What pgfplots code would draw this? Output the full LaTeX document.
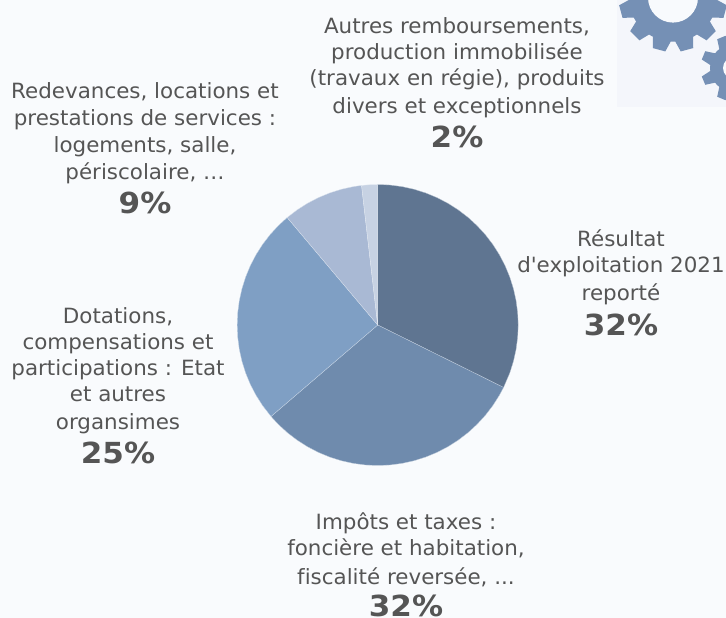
\documentclass[border=0pt]{standalone}
\usepackage{fontspec}
\setmainfont[FakeStretch=1.02,Ligatures=NoCommon]{DejaVu Sans}
\newfontfamily\pctfont[FakeStretch=1.07]{DejaVu Sans Bold}
\usepackage{pgfplots}
\pgfplotsset{compat=1.18}
\usepgfplotslibrary{polar}
\definecolor{pagebg}{HTML}{F9FBFD}
\definecolor{imgbg}{HTML}{F4F6FB}
\definecolor{gearc}{HTML}{7590B5}
\definecolor{txt}{HTML}{555555}
\definecolor{sa}{HTML}{5F7591}
\definecolor{sb}{HTML}{6F8BAD}
\definecolor{sc}{HTML}{7F9FC4}
\definecolor{sd}{HTML}{A9B9D4}
\definecolor{se}{HTML}{C7D2E3}
\newcommand{\lbl}[3]{\node[anchor=base,inner sep=0pt,text=txt,font=\fontsize{21}{23}\selectfont] at (#1,617-#2) {#3};}
\newcommand{\pct}[3]{\node[anchor=base,inner sep=0pt,text=txt,font=\fontsize{29}{32}\pctfont] at (#1,617-#2) {#3};}
% gear: centre x, y (from top), body radius, tooth radius, hole radius, number of teeth, half tooth width
\newcommand{\gear}[7]{%
  \begin{scope}[shift={(#1,618-(#2))}]
    \fill[gearc] (0,0) circle (#3pt);
    \pgfmathsetmacro{\stepa}{360/#6}
    \foreach \i in {1,...,#6}{
      \pgfmathsetmacro{\ang}{\i*\stepa+\stepa/2}
      \fill[gearc,rotate=\ang] ({#3-2},{-#7*1.45}) -- (#4,{-#7}) -- (#4,#7) -- ({#3-2},{#7*1.45}) -- cycle;
    }
    \fill[imgbg!60!white] (0,0) circle (#5pt);
  \end{scope}}
\begin{document}
\begin{tikzpicture}[x=1pt,y=1pt]
\path[use as bounding box] (0,0) rectangle (726,618);
\fill[pagebg] (0,0) rectangle (726,618);
\begin{scope}
\clip (0,0) rectangle (726,618);
\fill[imgbg] (617,511) rectangle (726,618);
\gear{673}{-2.4}{44}{54}{25}{12}{6.5}
\gear{734}{68}{24}{33}{11}{8}{4.5}
\end{scope}

\begin{polaraxis}[
  hide axis, scale only axis, width=281pt, height=281pt,
  at={(377.7pt,293pt)}, anchor=center,
  ymin=0, ymax=1, clip=false
]
\addplot[fill=sa,draw=pagebg!60!sa,line width=0.3pt] coordinates {(0,0) (90,1) (85,1) (80,1) (75,1) (70,1) (65,1) (60,1) (55,1) (50,1) (45,1) (40,1) (35,1) (30,1) (25,1) (20,1) (15,1) (10,1) (5,1) (0,1) (-5,1) (-10,1) (-15,1) (-20,1) (-26.4,1)} -- cycle;
\addplot[fill=sb,draw=pagebg!60!sb,line width=0.3pt] coordinates {(0,0) (-26.4,1) (-30,1) (-35,1) (-40,1) (-45,1) (-50,1) (-55,1) (-60,1) (-65,1) (-70,1) (-75,1) (-80,1) (-85,1) (-90,1) (-95,1) (-100,1) (-105,1) (-110,1) (-115,1) (-120,1) (-125,1) (-130,1) (-135,1) (-139.4,1)} -- cycle;
\addplot[fill=sc,draw=pagebg!60!sc,line width=0.3pt] coordinates {(0,0) (-139.4,1) (-145,1) (-150,1) (-155,1) (-160,1) (-165,1) (-170,1) (-175,1) (-180,1) (-185,1) (-190,1) (-195,1) (-200,1) (-205,1) (-210,1) (-215,1) (-220,1) (-225,1) (-229.9,1)} -- cycle;
\addplot[fill=sd,draw=pagebg!60!sd,line width=0.3pt] coordinates {(0,0) (-229.9,1) (-235,1) (-240,1) (-245,1) (-250,1) (-255,1) (-260,1) (-263.4,1)} -- cycle;
\addplot[fill=se,draw=pagebg!60!se,line width=0.3pt] coordinates {(0,0) (-263.4,1) (-267,1) (-270,1)} -- cycle;
\end{polaraxis}

\lbl{457}{33}{Autres remboursements,}
\lbl{457}{59}{production immobilisée}
\lbl{457}{85}{(travaux en régie), produits}
\lbl{457}{113}{divers et exceptionnels}
\pct{457}{147}{2\%}

\lbl{145}{98}{Redevances, locations et}
\lbl{145}{125}{prestations de services :}
\lbl{145}{152}{logements, salle,}
\lbl{145}{179}{périscolaire, …}
\pct{145}{213}{9\%}

\lbl{118}{323}{Dotations,}
\lbl{118}{349}{compensations et}
\lbl{118}{375}{participations : Etat}
\lbl{118}{401}{et autres}
\lbl{118}{429}{organsimes}
\pct{118}{463}{25\%}

\lbl{621}{246}{Résultat}
\lbl{621}{272}{d\textquotesingle exploitation 2021}
\lbl{621}{300}{reporté}
\pct{621}{335}{32\%}

\lbl{406}{529}{Impôts et taxes :}
\lbl{406}{555}{foncière et habitation,}
\lbl{406}{584}{fiscalité reversée, ...}
\pct{406}{615.5}{32\%}
\end{tikzpicture}
\end{document}
